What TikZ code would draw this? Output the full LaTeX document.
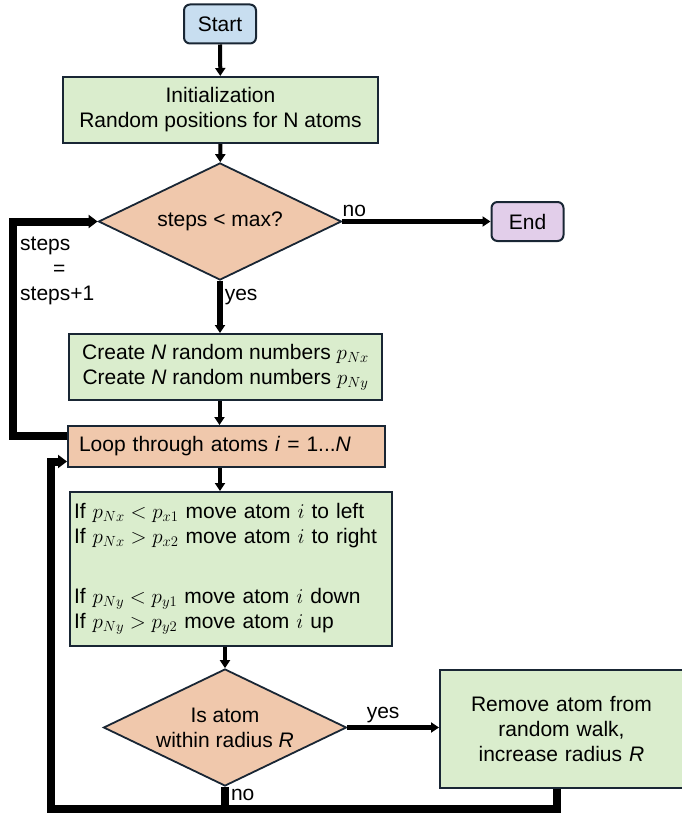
\RequirePackage{fix-cm}
\documentclass[tikz,border=0pt]{standalone}
\usepackage{amsmath}
\usepackage{fontspec}
\setmainfont{Liberation Sans}
\usepackage{tikz}
\usetikzlibrary{arrows.meta,shapes.geometric}

\definecolor{startblue}{RGB}{200,222,240}
\definecolor{procgreen}{RGB}{218,237,205}
\definecolor{decorange}{RGB}{240,200,172}
\definecolor{endpurple}{RGB}{226,206,234}
\definecolor{edgedark}{RGB}{25,38,52}

\begin{document}
\begin{tikzpicture}[x=1pt,y=-1pt,>={Triangle[length=8pt,width=10pt]},
  term node/.style={rectangle,rounded corners=6pt,draw=edgedark,line width=2pt,
    minimum width=72pt,minimum height=39pt,inner sep=0pt,font=\fontsize{21}{25}\selectfont},
  proc node/.style={rectangle,fill=procgreen,draw=edgedark,line width=2pt,
    align=center,inner sep=0pt,font=\fontsize{21}{25}\selectfont},
  dec node/.style={diamond,fill=decorange,draw=edgedark,line width=1.8pt,shape aspect=2.1,
    minimum width=243pt,minimum height=117pt,inner sep=0pt,align=center,font=\fontsize{21}{25}\selectfont},
  flow/.style={->,line width=4pt},
  back line/.style={line width=8pt},
  tag/.style={inner sep=2pt,font=\fontsize{21}{25}\selectfont}]

  \useasboundingbox (0,0) rectangle (681,816);

  \node[term node,fill=startblue] (0) at (220,24) {Start};
  \node[proc node,minimum width=315pt,minimum height=66pt] (1) at (220.5,110)
    {Initialization\\Random positions for N atoms};
  \node[dec node] (2) at (220,221.5) {steps < max?};
  \node[term node,fill=endpurple] (3) at (527.5,221.5) {End};
  \node[proc node,minimum width=313pt,minimum height=66pt] (4) at (225.5,367)
    {Create \textit{N} random numbers $p_{Nx}$\\Create \textit{N} random numbers $p_{Ny}$};
  \node[proc node,fill=decorange,align=left,text width=295pt,inner xsep=11pt,
    minimum height=41pt] (5) at (226.5,446.5) {Loop through atoms \textit{i} = 1...\textit{N}};
  \node[proc node,align=left,text width=314pt,inner xsep=4pt,minimum height=154pt] (6) at (231,569)
    {If $p_{Nx} < p_{x1}$ move atom $i$ to left\\
     If $p_{Nx} > p_{x2}$ move atom $i$ to right\\[35pt]
     If $p_{Ny} < p_{y1}$ move atom $i$ down\\
     If $p_{Ny} > p_{y2}$ move atom $i$ up};
  \node[dec node] (7) at (225,727.5) {Is atom\\within radius \textit{R}};
  \node[proc node,text width=243pt,minimum height=118pt] (8) at (561.5,729)
    {Remove atom from\\random walk,\\increase radius \textit{R}};
  \node[tag,align=left,anchor=west] (9) at (18,271)
    {steps\\\hspace*{33pt}=\\steps+1};

  \path[flow]
    (0) edge (1)
    (1) edge (2)
    ([xshift=-6]4.south) edge ([xshift=-6]4.south |- 5.north)
    ([xshift=-6.5]5.south) edge ([xshift=-6.5]5.south |- 6.north)
    (6.south -| 7) edge (7);

  \path[->,line width=5.5pt,every node/.style={tag}]
    (2) edge node [pos=.08,above] {no} (3)
    (2.south) edge node [pos=.3,right] {yes} (2.south |- 4.north)
    (7) edge node [pos=.39,above] {yes} (7 -| 8.west);

  % loops back
  \draw[back line,->,>={Triangle[length=9pt,width=13pt]}]
    ([yshift=11]5.west) -- ++(-54,0) |- (2.west);
  \draw[back line] (7.south) -- node [tag,pos=.35,right] {no} (7.south |- 0,809);
  \draw[back line,->,>={Triangle[length=9pt,width=13pt]}]
    ([xshift=-5]8.south) |- (7.south |- 0,809)
    -| ([xshift=-16,yshift=-15]5.west) -- ([yshift=-15]5.west);

\end{tikzpicture}
\end{document}
